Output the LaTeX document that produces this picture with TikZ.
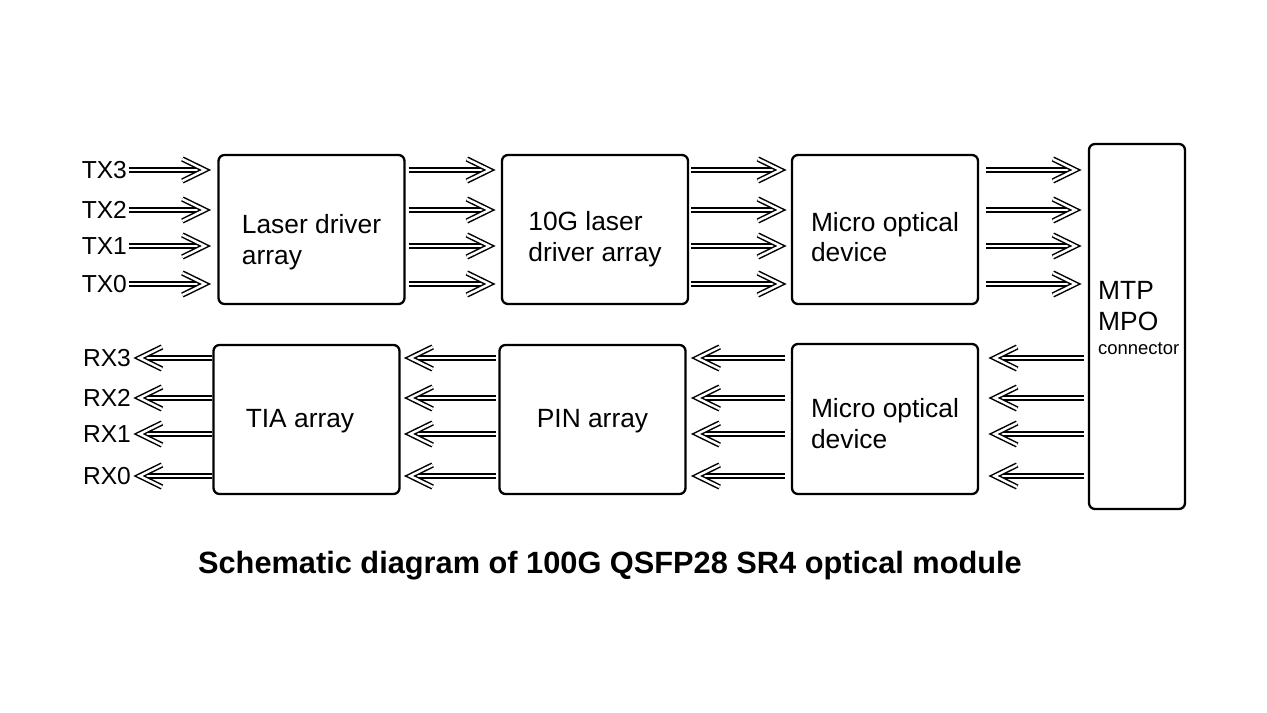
\documentclass[tikz,border=0pt]{standalone}
\usepackage{fontspec}
\setmainfont{Liberation Sans}
\usepackage{tikz}
\usetikzlibrary{arrows.meta}
\usetikzlibrary{positioning}
\usetikzlibrary{calc}
\usetikzlibrary{decorations.markings}
\tikzstyle{blockNode} = [rectangle, draw, line width=1.3pt, rounded corners=0.12cm, minimum width=3.72cm, minimum height=2.98cm, inner sep=0pt]
\tikzstyle{blockText} = [align=left, font=\fontsize{15}{17.5}\selectfont, inner sep=0pt]
\tikzstyle{portLabel} = [font=\fontsize{14}{16}\selectfont, inner sep=1pt, anchor=east]
\tikzstyle{dblLine} = [double, double distance=1.4pt, line width=0.85pt, line join=miter]
\tikzstyle{dblArrow} = [dblLine, shorten >=0.2cm, postaction={decorate, decoration={markings, mark=at position 1 with {\draw[dblLine, shorten >=0pt, shorten <=0pt] (-0.58,0.22) -- (-0.13,0) -- (-0.58,-0.22);}}}]

\begin{document}
\begin{tikzpicture}[font=\fontsize{15}{17.5}\selectfont]
	\useasboundingbox (0,0) rectangle (25.34,14.26);
	
	\node[blockNode](Laser-Driver) at (6.23,9.67){};
	\node[blockText] at ([yshift=-0.25cm]Laser-Driver.center)(Laser-Driver-Text){Laser driver\\array};
	
	\node[blockNode](Ten-G) at (11.90,9.67){};
	\node[blockText] at ([yshift=-0.2cm]Ten-G.center)(Ten-G-Text){10G laser\\driver array};
	
	\node[blockNode](Micro-Tx) at (17.70,9.67){};
	\node[blockText] at ([yshift=-0.15cm]Micro-Tx.center)(Micro-Tx-Text){Micro optical\\device};
	
	\node[blockNode, minimum width=1.92cm, minimum height=7.30cm](MTP) at (22.74,7.73){};
	\node[blockText, anchor=west] at ([xshift=0.2cm, yshift=0.17cm]MTP.west)(MTP-Text){MTP\\MPO\\[-4pt]{\fontsize{10.5}{12}\selectfont connector}};
	
	\node[blockNode](TIA) at (6.13,5.87){};
	\node[blockText] at ([xshift=-0.13cm, yshift=-0.04cm]TIA.center)(TIA-Text){TIA array};
	
	\node[blockNode](PIN) at (11.85,5.87){};
	\node[blockText] at ([yshift=-0.04cm]PIN.center)(PIN-Text){PIN array};
	
	\node[blockNode, minimum height=3.0cm](Micro-Rx) at (17.70,5.88){};
	\node[blockText] at ([yshift=-0.09cm]Micro-Rx.center)(Micro-Rx-Text){Micro optical\\device};
	
	\foreach \n/\y in {3/10.86, 2/10.06, 1/9.34, 0/8.58}{
		\node[portLabel] at (2.58,\y)(TX\n){TX\n};
		\draw[dblArrow] (TX\n.east) -- ($(Laser-Driver.west |- TX\n.east)+(-0.12,0)$);
		\draw[dblArrow, shorten <=0.06cm] (Laser-Driver.east |- TX\n.east) -- ($(Ten-G.west |- TX\n.east)+(-0.1,0)$);
		\draw[dblArrow, shorten <=0.04cm] (Ten-G.east |- TX\n.east) -- ($(Micro-Tx.west |- TX\n.east)+(-0.08,0)$);
		\draw[dblArrow, shorten <=0.14cm] (Micro-Tx.east |- TX\n.east) -- ($(MTP.west |- TX\n.east)+(-0.12,0)$);
	}
	
	\foreach \n/\y in {3/7.10, 2/6.30, 1/5.58, 0/4.74}{
		\node[portLabel] at (2.66,\y)(RX\n){RX\n};
		\draw[dblArrow] (TIA.west |- RX\n.east) -- (RX\n.east);
		\draw[dblArrow, shorten <=0.04cm] (PIN.west |- RX\n.east) -- ($(TIA.east |- RX\n.east)+(0.06,0)$);
		\draw[dblArrow, shorten <=0.12cm] (Micro-Rx.west |- RX\n.east) -- ($(PIN.east |- RX\n.east)+(0.08,0)$);
		\draw[dblArrow, shorten <=0.08cm] (MTP.west |- RX\n.east) -- ($(Micro-Rx.east |- RX\n.east)+(0.18,0)$);
	}
	
	\node[font=\bfseries\fontsize{17.5}{20}\selectfont] at (12.20,2.94)(Title){Schematic diagram of 100G QSFP28 SR4 optical module};
	
\end{tikzpicture}
\end{document}
